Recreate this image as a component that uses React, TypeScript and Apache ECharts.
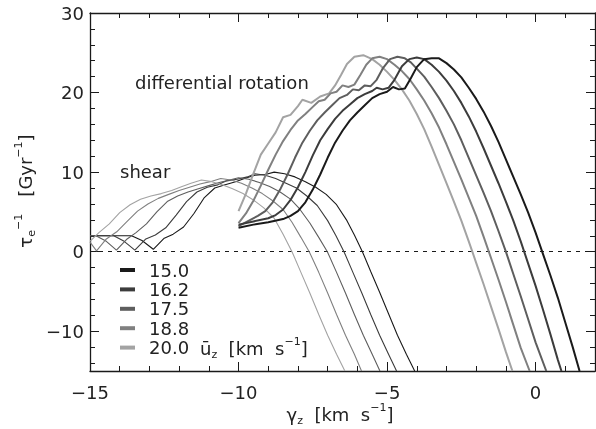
import React, { useEffect, useRef } from 'react';
import * as echarts from 'echarts';

const U_LABELS = ['15.0', '16.2', '17.5', '18.8', '20.0'];
const GRAYS = ['#1a1a1a', '#3c3c3c', '#5e5e5e', '#808080', '#a3a3a3'];
const X_MIN = -15;
const X_MAX = 2;
const Y_MIN = -15;
const Y_MAX = 30;

// "differential rotation" curves (thick)
const DR_150 = [[-10.0, 3.0], [-9.5, 3.4], [-9.0, 3.7], [-8.5, 4.1], [-8.25, 4.5], [-8.0, 5.1], [-7.75, 6.2], [-7.5, 7.8], [-7.25, 9.7], [-7.0, 11.8], [-6.75, 13.7], [-6.5, 15.2], [-6.25, 16.5], [-6.0, 17.5], [-5.75, 18.4], [-5.5, 19.3], [-5.25, 19.8], [-5.0, 20.1], [-4.8, 20.7], [-4.6, 20.4], [-4.4, 20.5], [-4.2, 21.8], [-4.0, 23.2], [-3.75, 24.2], [-3.5, 24.3], [-3.25, 24.3], [-3.0, 23.7], [-2.75, 22.9], [-2.5, 21.9], [-2.25, 20.6], [-2.0, 19.2], [-1.75, 17.6], [-1.5, 15.8], [-1.25, 13.8], [-1.0, 11.6], [-0.75, 9.4], [-0.5, 7.2], [-0.25, 4.9], [0.0, 2.4], [0.25, -0.3], [0.5, -3.0], [0.75, -5.8], [1.0, -8.9], [1.25, -12.0], [1.48, -15.0]];
const DR_162 = [[-10.0, 3.4], [-9.5, 3.8], [-9.0, 4.2], [-8.75, 4.6], [-8.5, 5.3], [-8.25, 6.5], [-8.0, 8.1], [-7.75, 10.0], [-7.5, 12.1], [-7.25, 14.0], [-7.0, 15.4], [-6.75, 16.7], [-6.5, 17.7], [-6.25, 18.5], [-6.0, 19.3], [-5.75, 19.8], [-5.5, 20.2], [-5.35, 20.6], [-5.15, 20.4], [-4.95, 20.6], [-4.75, 21.6], [-4.5, 23.3], [-4.25, 24.2], [-4.0, 24.4], [-3.75, 24.2], [-3.5, 23.5], [-3.25, 22.6], [-3.0, 21.5], [-2.75, 20.2], [-2.5, 18.7], [-2.25, 17.0], [-2.0, 15.1], [-1.75, 13.0], [-1.5, 10.8], [-1.25, 8.6], [-1.0, 6.3], [-0.75, 3.9], [-0.5, 1.3], [-0.25, -1.5], [0.0, -4.3], [0.25, -7.3], [0.5, -10.4], [0.75, -13.6], [0.87, -15.0]];
const DR_175 = [[-10.0, 3.2], [-9.6, 4.0], [-9.35, 4.5], [-9.1, 5.1], [-8.85, 6.2], [-8.6, 7.8], [-8.35, 9.7], [-8.1, 11.8], [-7.85, 13.7], [-7.6, 15.2], [-7.35, 16.5], [-7.1, 17.5], [-6.85, 18.4], [-6.6, 19.3], [-6.35, 19.7], [-6.15, 20.4], [-5.95, 20.3], [-5.75, 20.9], [-5.55, 20.8], [-5.35, 21.6], [-5.15, 23.0], [-4.9, 24.2], [-4.65, 24.5], [-4.4, 24.3], [-4.2, 23.8], [-4.0, 23.0], [-3.75, 22.0], [-3.5, 20.7], [-3.25, 19.3], [-3.0, 17.7], [-2.75, 16.0], [-2.5, 14.0], [-2.25, 11.8], [-2.0, 9.6], [-1.75, 7.4], [-1.5, 5.1], [-1.25, 2.6], [-1.0, 0.0], [-0.75, -2.8], [-0.5, -5.6], [-0.25, -8.5], [0.0, -11.4], [0.36, -15.0]];
const DR_188 = [[-10.0, 3.6], [-9.75, 4.8], [-9.5, 6.4], [-9.25, 8.3], [-9.0, 10.3], [-8.75, 12.2], [-8.5, 13.9], [-8.25, 15.3], [-8.0, 16.5], [-7.75, 17.3], [-7.5, 18.2], [-7.3, 18.9], [-7.1, 19.1], [-6.9, 19.9], [-6.7, 20.1], [-6.5, 20.9], [-6.3, 20.7], [-6.1, 21.0], [-5.9, 22.2], [-5.7, 23.5], [-5.5, 24.3], [-5.25, 24.5], [-5.0, 24.2], [-4.75, 23.5], [-4.5, 22.7], [-4.25, 21.7], [-4.0, 20.4], [-3.75, 19.0], [-3.5, 17.4], [-3.25, 15.6], [-3.0, 13.5], [-2.75, 11.3], [-2.5, 9.1], [-2.25, 6.8], [-2.0, 4.5], [-1.75, 1.9], [-1.5, -0.8], [-1.25, -3.5], [-1.0, -6.3], [-0.75, -9.2], [-0.5, -12.1], [-0.2, -15.0]];
const DR_200 = [[-10.0, 5.1], [-9.75, 7.3], [-9.5, 9.8], [-9.25, 12.2], [-9.0, 13.6], [-8.75, 15.0], [-8.5, 16.9], [-8.25, 17.2], [-8.0, 18.3], [-7.85, 19.1], [-7.55, 18.7], [-7.25, 19.5], [-6.95, 19.9], [-6.75, 20.9], [-6.55, 22.2], [-6.35, 23.6], [-6.1, 24.5], [-5.8, 24.7], [-5.5, 24.2], [-5.25, 23.5], [-5.0, 22.6], [-4.75, 21.6], [-4.5, 20.4], [-4.25, 19.0], [-4.0, 17.3], [-3.75, 15.4], [-3.5, 13.2], [-3.25, 10.9], [-3.0, 8.6], [-2.75, 6.3], [-2.5, 3.9], [-2.25, 1.3], [-2.0, -1.4], [-1.75, -4.1], [-1.5, -6.9], [-1.25, -9.7], [-1.0, -12.6], [-0.78, -15.0]];

// "shear" curves (thin)
const SH_150 = [[-15.0, 2.0], [-14.5, 2.0], [-14.0, 2.0], [-13.6, 2.0], [-13.25, 1.4], [-12.87, 0.3], [-12.5, 1.7], [-12.2, 2.2], [-11.85, 3.1], [-11.5, 4.8], [-11.15, 6.8], [-10.8, 8.0], [-10.45, 8.4], [-10.1, 8.8], [-9.8, 9.2], [-9.45, 9.6], [-9.1, 9.7], [-8.8, 10.0], [-8.45, 9.8], [-8.1, 9.4], [-7.75, 8.8], [-7.4, 8.1], [-7.05, 7.2], [-6.7, 5.9], [-6.35, 3.9], [-6.1, 2.1], [-5.83, 0.0], [-5.55, -2.5], [-5.25, -5.1], [-4.95, -7.8], [-4.65, -10.5], [-4.35, -12.9], [-4.07, -15.0]];
const SH_162 = [[-15.0, 2.0], [-14.5, 2.0], [-14.2, 2.0], [-13.85, 1.3], [-13.49, 0.2], [-13.12, 1.6], [-12.8, 2.1], [-12.45, 3.0], [-12.1, 4.6], [-11.75, 6.3], [-11.4, 7.5], [-11.05, 8.1], [-10.7, 8.4], [-10.4, 8.9], [-10.05, 9.1], [-9.7, 9.4], [-9.45, 9.8], [-9.1, 9.6], [-8.75, 9.2], [-8.4, 8.6], [-8.05, 8.0], [-7.7, 7.0], [-7.35, 5.8], [-7.0, 3.9], [-6.72, 2.0], [-6.45, 0.0], [-6.15, -2.6], [-5.85, -5.2], [-5.55, -7.9], [-5.25, -10.5], [-4.95, -12.9], [-4.68, -15.0]];
const SH_175 = [[-15.0, 2.0], [-14.8, 2.0], [-14.45, 1.3], [-14.11, 0.2], [-13.75, 1.6], [-13.45, 2.4], [-13.1, 3.5], [-12.75, 5.0], [-12.4, 6.3], [-12.05, 7.0], [-11.7, 7.5], [-11.35, 7.9], [-11.0, 8.3], [-10.65, 8.7], [-10.3, 9.0], [-10.0, 9.3], [-9.65, 9.1], [-9.3, 8.7], [-8.95, 8.2], [-8.6, 7.5], [-8.25, 6.6], [-7.95, 5.4], [-7.6, 3.6], [-7.3, 1.8], [-7.01, 0.0], [-6.7, -2.6], [-6.4, -5.2], [-6.1, -7.9], [-5.8, -10.5], [-5.5, -12.9], [-5.24, -15.0]];
const SH_188 = [[-15.0, 1.2], [-14.78, 0.1], [-14.45, 1.6], [-14.1, 2.5], [-13.75, 3.8], [-13.4, 5.1], [-13.05, 6.0], [-12.7, 6.7], [-12.35, 7.2], [-12.0, 7.7], [-11.65, 8.1], [-11.3, 8.5], [-10.95, 8.8], [-10.6, 9.2], [-10.25, 9.0], [-9.9, 8.6], [-9.55, 8.0], [-9.2, 7.3], [-8.85, 6.4], [-8.5, 5.3], [-8.2, 3.7], [-7.9, 1.8], [-7.62, 0.0], [-7.3, -2.6], [-7.0, -5.2], [-6.7, -7.9], [-6.4, -10.5], [-6.1, -12.9], [-5.86, -15.0]];
const SH_200 = [[-15.0, 1.3], [-14.7, 2.4], [-14.35, 3.5], [-14.0, 4.9], [-13.65, 5.9], [-13.3, 6.6], [-12.95, 7.0], [-12.6, 7.3], [-12.25, 7.7], [-11.9, 8.2], [-11.6, 8.6], [-11.25, 9.0], [-10.9, 8.8], [-10.55, 8.4], [-10.2, 7.9], [-9.85, 7.3], [-9.5, 6.5], [-9.15, 5.5], [-8.8, 4.2], [-8.5, 2.2], [-8.2, 0.0], [-7.9, -2.6], [-7.6, -5.2], [-7.3, -7.9], [-7.0, -10.5], [-6.7, -12.9], [-6.42, -15.0]];

const DR_SERIES = [DR_150, DR_162, DR_175, DR_188, DR_200];
const SH_SERIES = [SH_150, SH_162, SH_175, SH_188, SH_200];

const FONT = "'DejaVu Sans', sans-serif";
const INK = '#1a1a1a';
const TXT = '#222222';

const minus = (v: number) => String(v).replace('-', '\u2212');

export default function App() {
  const ref = useRef<HTMLDivElement>(null);
  useEffect(() => {
    if (!ref.current) return;
    const chart = echarts.init(ref.current, undefined, { renderer: 'svg' });

    const xBase = (pos: string, major: boolean, label: boolean) => ({
      type: 'value',
      position: pos,
      min: X_MIN,
      max: X_MAX,
      interval: major ? 5 : 1,
      axisLine: { show: major, onZero: false, lineStyle: { color: INK, width: 1.3 } },
      axisTick: { show: true, inside: true, length: major ? 9 : 5, lineStyle: { color: INK, width: 1 } },
      axisLabel: {
        show: label,
        margin: 12,
        fontSize: 18,
        fontFamily: FONT,
        color: TXT,
        formatter: (v: number) => (v % 5 === 0 && v <= 0 ? minus(v) : ''),
      },
      splitLine: { show: false },
    });
    const yBase = (pos: string, major: boolean, label: boolean) => ({
      type: 'value',
      position: pos,
      min: Y_MIN,
      max: Y_MAX,
      splitNumber: major ? 5 : 20,
      axisLine: { show: major, onZero: false, lineStyle: { color: INK, width: 1.3 } },
      axisTick: { show: true, inside: true, length: major ? 9 : 5, lineStyle: { color: INK, width: 1 } },
      axisLabel: {
        show: label,
        margin: 6,
        fontSize: 18,
        fontFamily: FONT,
        color: TXT,
        formatter: (v: number) => (v % 10 === 0 ? minus(v) : ''),
      },
      splitLine: { show: false },
    });

    const supStyle = { fontSize: 11, fontFamily: FONT, fill: TXT, verticalAlign: 'top', lineHeight: 11 };
    const subStyle = { fontSize: 11, fontFamily: FONT, fill: TXT, verticalAlign: 'bottom', lineHeight: 11 };
    const nStyle = { fontSize: 18, fontFamily: FONT, fill: TXT, lineHeight: 24 };

    const series: any[] = [];
    SH_SERIES.forEach((data, i) => {
      series.push({
        type: 'line',
        name: 'shear ' + U_LABELS[i],
        data,
        symbol: 'none',
        smooth: false,
        lineStyle: { color: GRAYS[i], width: 1.1 },
        itemStyle: { color: GRAYS[i] },
        z: 3,
        ...(i === 0
          ? {
              markLine: {
                silent: true,
                symbol: 'none',
                label: { show: false },
                lineStyle: { type: [4, 5], color: INK, width: 1 },
                data: [{ yAxis: 0 }],
                z: 1,
              },
            }
          : {}),
      });
    });
    for (let i = DR_SERIES.length - 1; i >= 0; i--) {
      series.push({
        type: 'line',
        name: U_LABELS[i],
        data: DR_SERIES[i],
        symbol: 'none',
        smooth: false,
        lineStyle: { color: GRAYS[i], width: 2 },
        itemStyle: { color: GRAYS[i] },
        z: 4,
      });
    }

    chart.setOption({
      animation: false,
      grid: { left: 90, right: 1, top: 13, bottom: 58, outerBoundsMode: 'none', containLabel: false },
      xAxis: [xBase('bottom', true, true), xBase('bottom', false, false), xBase('top', true, false), xBase('top', false, false)],
      yAxis: [yBase('left', true, true), yBase('left', false, false), yBase('right', true, false), yBase('right', false, false)],
      legend: {
        data: U_LABELS.map((name) => ({ name, icon: 'rect' })),
        orient: 'vertical',
        left: 120,
        top: 261,
        padding: 0,
        itemWidth: 15,
        itemHeight: 4,
        itemGap: 1.4,
        selectedMode: false,
        textStyle: { fontSize: 18, fontFamily: FONT, color: TXT, padding: [0, 0, 0, 9] },
      },
      series,
      graphic: [
        {
          type: 'text',
          x: 135,
          y: 82,
          style: { text: 'differential rotation', fontSize: 18, fontFamily: FONT, fill: TXT, align: 'left', verticalAlign: 'middle' },
        },
        {
          type: 'text',
          x: 120,
          y: 171,
          style: { text: 'shear', fontSize: 18, fontFamily: FONT, fill: TXT, align: 'left', verticalAlign: 'middle' },
        },
        {
          type: 'text',
          x: 340,
          y: 414,
          style: {
            text: '{n|\u03b3}{sub|z}{n|  [km  s}{sup|\u22121}{n|]}',
            align: 'center',
            verticalAlign: 'middle',
            rich: { n: nStyle, sup: supStyle, sub: subStyle },
          },
        },
        {
          type: 'text',
          x: 200,
          y: 348,
          style: {
            text: '{n|\u016b}{sub|z}{n|  [km  s}{sup|\u22121}{n|]}',
            align: 'left',
            verticalAlign: 'middle',
            rich: { n: nStyle, sup: supStyle, sub: subStyle },
          },
        },
        {
          type: 'text',
          x: 25,
          y: 191,
          rotation: Math.PI / 2,
          style: {
            text: '{n|\u03c4}{sub|e}{sup|\u22121}{n|   [Gyr}{sup|\u22121}{n|]}',
            align: 'center',
            verticalAlign: 'middle',
            rich: { n: nStyle, sup: supStyle, sub: subStyle },
          },
        },
      ],
    });
    return () => chart.dispose();
  }, []);
  return <div ref={ref} style={{ position: 'fixed', left: 0, top: 0, width: 596, height: 429 }} />;
}
